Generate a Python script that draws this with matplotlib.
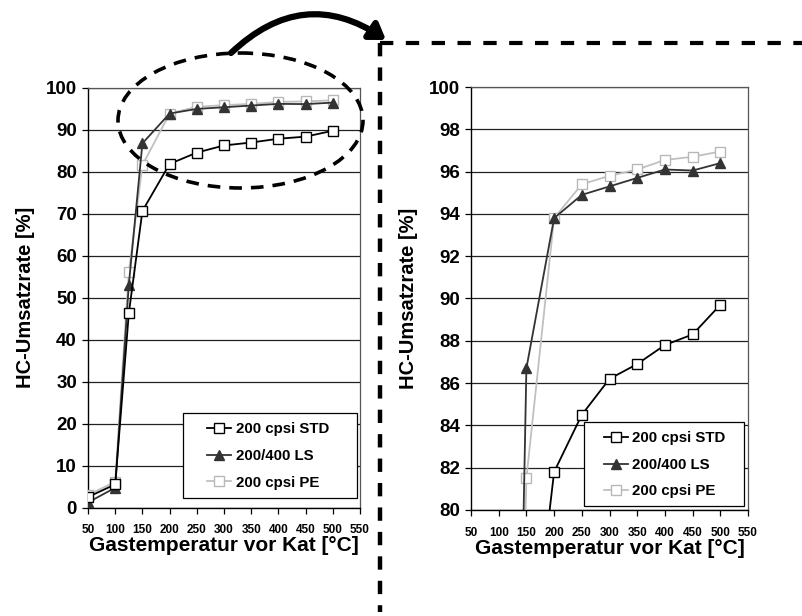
import matplotlib
matplotlib.use("Agg")
import matplotlib.pyplot as plt
from matplotlib.patches import Ellipse, FancyArrowPatch, Rectangle
from matplotlib.lines import Line2D

plt.rcParams['font.family'] = ['Liberation Sans', 'DejaVu Sans']
plt.rcParams['font.weight'] = 'bold'

# Gas temperature before catalyst [°C]
temps = [50, 100, 125, 150, 200, 250, 300, 350, 400, 450, 500]

# HC conversion rate [%]
std_200 = [2.5, 5.5, 46.2, 70.6, 81.8, 84.5, 86.2, 86.9, 87.8, 88.3, 89.7]
ls_200_400 = [1.2, 4.7, 53.0, 86.7, 93.8, 94.9, 95.3, 95.7, 96.1, 96.05, 96.4]
pe_200 = [3.0, 6.1, 56.0, 81.5, 93.8, 95.4, 95.8, 96.1, 96.55, 96.7, 96.95]

series_names = ["200 cpsi STD", "200/400 LS", "200 cpsi PE"]
x_ticks = [50, 100, 150, 200, 250, 300, 350, 400, 450, 500, 550]
left_y_ticks = list(range(0, 101, 10))
right_y_ticks = list(range(80, 101, 2))

W, H = 802, 616
fig = plt.figure(figsize=(W / 100, H / 100), dpi=100)


def px_axes(x0, y0, x1, y1):
    """Axes from pixel box (left, top, right, bottom)."""
    return fig.add_axes([x0 / W, 1 - y1 / H, (x1 - x0) / W, (y1 - y0) / H])


styles = [
    dict(color="black", marker="s", markerfacecolor="white", markeredgecolor="black",
         markersize=6.8, lw=1.3),
    dict(color="#333333", marker="^", markerfacecolor="#333333", markeredgecolor="#333333",
         markersize=6.8, lw=1.3),
    dict(color="#c0c0c0", marker="s", markerfacecolor="white", markeredgecolor="#b8b8b8",
         markersize=6.8, lw=1.3),
]
data = [std_200, ls_200_400, pe_200]


def draw_panel(ax, yticks, ylim, frame_px, content_xy):
    handles = [None] * 3
    for i in [2, 1, 0]:
        (h,) = ax.plot(temps, data[i], label=series_names[i], zorder=3, **styles[i])
        handles[i] = h
    ax.set_xlim(50, 550)
    ax.set_ylim(*ylim)
    ax.set_xticks(x_ticks)
    ax.set_xticklabels([str(t) for t in x_ticks], fontsize=8.5, fontweight="bold")
    ax.set_yticks(yticks)
    ax.set_yticklabels([str(t) for t in yticks], fontsize=13.5, fontweight="bold")
    ax.tick_params(axis="both", direction="out", length=4, width=0.9, color="black")
    ax.tick_params(axis="x", pad=8)
    ax.tick_params(axis="y", pad=4)
    ax.grid(axis="y", color="#222222", lw=0.9)
    ax.set_axisbelow(True)
    for side in ("top", "right"):
        ax.spines[side].set_color("#555555")
        ax.spines[side].set_linewidth(0.9)
    for side in ("left", "bottom"):
        ax.spines[side].set_color("black")
        ax.spines[side].set_linewidth(1.0)
    ax.set_xlabel("Gastemperatur vor Kat [°C]", fontsize=15, fontweight="bold", labelpad=0)
    ax.set_ylabel("HC-Umsatzrate [%]", fontsize=14.5, fontweight="bold", labelpad=8)

    # legend frame and contents placed separately (pixel coordinates)
    x0, y0, x1, y1 = frame_px
    ax.add_patch(Rectangle((x0 / W, 1 - y1 / H), (x1 - x0) / W, (y1 - y0) / H,
                           transform=fig.transFigure, facecolor="white",
                           edgecolor="black", lw=0.9, zorder=4, clip_on=False))
    cx, cy = content_xy
    leg = ax.legend(handles=handles, loc="upper left", fontsize=10.8, frameon=False,
                    handlelength=1.6, handletextpad=0.3, borderpad=0,
                    borderaxespad=0, labelspacing=0.85,
                    bbox_to_anchor=(cx / W, 1 - cy / H),
                    bbox_transform=fig.transFigure)
    leg.set_zorder(6)
    for t in leg.get_texts():
        t.set_fontweight("bold")


ax_l = px_axes(88, 87.5, 360, 507.5)
draw_panel(ax_l, left_y_ticks, (0, 100), (183, 413, 357, 498), (207, 422))

ax_r = px_axes(471, 87, 748, 510)
draw_panel(ax_r, right_y_ticks, (80, 100), (584, 422, 744, 506), (604, 431))

# overlay in pixel coordinates for the zoom annotation
ov = fig.add_axes([0, 0, 1, 1], facecolor="none")
ov.set_xlim(0, W)
ov.set_ylim(H, 0)
ov.axis("off")

ov.add_patch(Ellipse((240.5, 120.5), 245, 135, fill=False, edgecolor="black",
                     lw=2.6, linestyle=(0, (3.5, 2.5))))
ov.add_line(Line2D([380, 380], [43, 612], color="black", lw=3.2,
                   linestyle=(0, (3, 2.5))))
ov.add_line(Line2D([380, 802], [43, 43], color="black", lw=3.0,
                   linestyle=(0, (3.2, 3.0))))
ov.add_patch(FancyArrowPatch((231, 53), (386, 40), connectionstyle="arc3,rad=-0.4",
                             arrowstyle="-|>,head_length=9,head_width=6",
                             lw=4.5, color="black", shrinkA=0, shrinkB=0))

fig.savefig("out.png", dpi=100)
